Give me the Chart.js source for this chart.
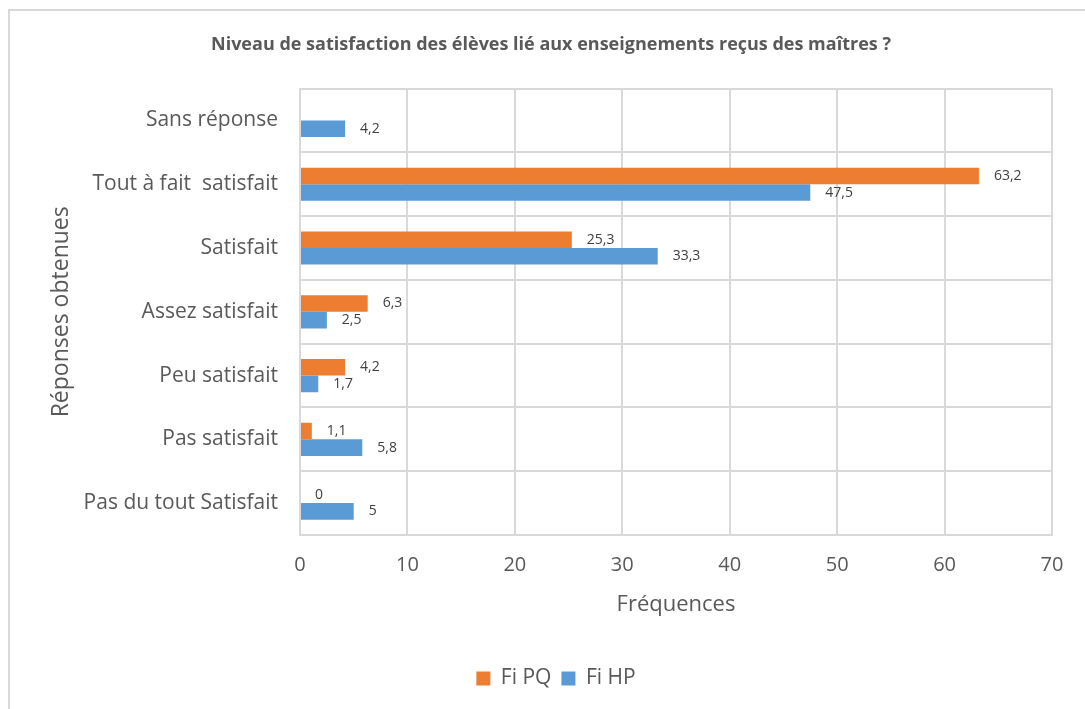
<!DOCTYPE html>
<html lang="fr">
<head>
<meta charset="utf-8">
<title>Niveau de satisfaction des élèves</title>
<script src="https://cdn.jsdelivr.net/npm/chart.js@4.4.1/dist/chart.umd.min.js"></script>
<style>
  html, body { margin: 0; padding: 0; background: #fff; }
  #wrap { position: relative; width: 1085px; height: 709px; overflow: hidden; }
  #frame { position: absolute; left: 8px; top: 9px; width: 1100px; height: 720px; border: 2px solid #d9d9d9; box-sizing: border-box; pointer-events: none; }
  canvas { position: absolute; left: 0; top: 0; }
</style>
</head>
<body>
<div id="wrap">
  <canvas id="satChart" width="1085" height="709"></canvas>
  <div id="frame"></div>
</div>
<script>
// Data
const categories = [
    'Sans réponse',
    'Tout à fait  satisfait',
    'Satisfait',
    'Assez satisfait',
    'Peu satisfait',
    'Pas satisfait',
    'Pas du tout Satisfait'
];
const fiPQ = [null, 63.2, 25.3, 6.3, 4.2, 1.1, 0];
const fiHP = [4.2, 47.5, 33.3, 2.5, 1.7, 5.8, 5];
const xTicks = [0, 10, 20, 30, 40, 50, 60, 70];

const textGray = '#595959';
const gridGray = '#d9d9d9';
const fontFam = "'Open Sans', 'Noto Sans', sans-serif";

// Draw value labels to the right of each bar (comma decimals)
const valueLabels = {
    id: 'valueLabels',
    afterDatasetsDraw(chart) {
        const ctx = chart.ctx;
        ctx.save();
        ctx.font = `14px ${fontFam}`;
        ctx.fillStyle = '#404040';
        ctx.textAlign = 'left';
        ctx.textBaseline = 'middle';
        chart.data.datasets.forEach((ds, i) => {
            const meta = chart.getDatasetMeta(i);
            meta.data.forEach((bar, j) => {
                const v = ds.data[j];
                if (v === null || v === undefined) return;
                ctx.fillText(String(v).replace('.', ','), bar.x + 15, bar.y);
            });
        });
        ctx.restore();
    }
};

// Nudge title and legend to the right, the way the original is centred
const nudgeBlocks = {
    id: 'nudgeBlocks',
    afterLayout(chart) {
        if (chart.titleBlock) { chart.titleBlock.left += 15; chart.titleBlock.right += 15; }
        if (chart.legend) { chart.legend.left += 20; chart.legend.right += 20; }
    }
};

new Chart(document.getElementById('satChart'), {
    type: 'bar',
    data: {
        labels: categories,
        datasets: [
            {
                label: 'Fi PQ',
                data: fiPQ,
                backgroundColor: '#ED7D31',
                borderWidth: 0,
                categoryPercentage: 0.52,
                barPercentage: 1.0
            },
            {
                label: 'Fi HP',
                data: fiHP,
                backgroundColor: '#5B9BD5',
                borderWidth: 0,
                categoryPercentage: 0.52,
                barPercentage: 1.0
            }
        ]
    },
    options: {
        indexAxis: 'y',
        responsive: false,
        animation: false,
        layout: { padding: { left: 20, right: 33, top: 0, bottom: 10 } },
        plugins: {
            title: {
                display: true,
                text: 'Niveau de satisfaction des élèves lié aux enseignements reçus des maîtres ?',
                color: textGray,
                font: { family: fontFam, size: 18, weight: 'bold' },
                padding: { top: 34, bottom: 33 }
            },
            legend: {
                position: 'bottom',
                labels: {
                    color: textGray,
                    font: { family: fontFam, size: 21 },
                    boxWidth: 14,
                    boxHeight: 14,
                    padding: 10
                }
            },
            tooltip: { enabled: false }
        },
        scales: {
            x: {
                min: 0,
                max: 70,
                afterBuildTicks: (scale) => { scale.ticks = xTicks.map(v => ({ value: v })); },
                afterFit: (scale) => { scale.height = 123; },
                grid: { color: gridGray, lineWidth: 2, drawTicks: false },
                border: { color: gridGray, width: 2 },
                ticks: { color: textGray, font: { family: fontFam, size: 20 }, padding: 18 },
                title: {
                    display: true,
                    text: 'Fréquences',
                    color: textGray,
                    font: { family: fontFam, size: 22 },
                    padding: { top: 0, bottom: 40 }
                }
            },
            y: {
                afterFit: (scale) => { scale.width = 280; },
                grid: { color: gridGray, lineWidth: 2, drawTicks: false },
                border: { color: gridGray, width: 2 },
                ticks: { color: textGray, font: { family: fontFam, size: 21 }, padding: 22 },
                title: {
                    display: true,
                    text: 'Réponses obtenues',
                    color: textGray,
                    font: { family: fontFam, size: 23 },
                    padding: { top: 28, bottom: 0 }
                }
            }
        }
    },
    plugins: [valueLabels, nudgeBlocks]
});
</script>
</body>
</html>
